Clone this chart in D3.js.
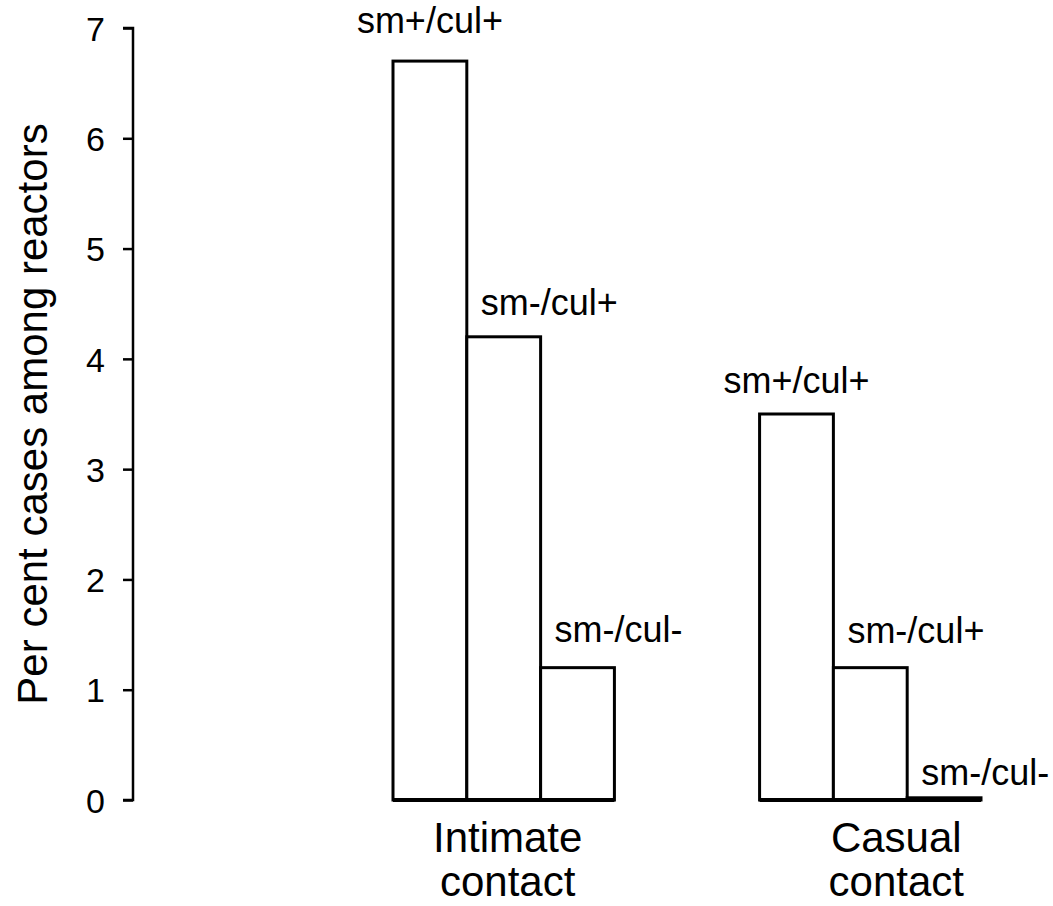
<!DOCTYPE html>
<html>
<head>
<meta charset="utf-8">
<script src="https://cdn.jsdelivr.net/npm/d3@7/dist/d3.min.js"></script>
<style>
  html, body { margin: 0; padding: 0; background: #fff; }
  svg { display: block; font-family: "Liberation Sans", Arial, Helvetica, sans-serif; }
</style>
</head>
<body>
<svg id="chart" width="1053" height="906"></svg>
<script>
// ---- data ----
const categories = ["Intimate contact", "Casual contact"];
const categoryLines = [["Intimate", "contact"], ["Casual", "contact"]];
const seriesNames = ["sm+/cul+", "sm-/cul+", "sm-/cul-"];
const intimateValues = [6.7, 4.2, 1.2];
const casualValues = [3.5, 1.2, 0.02];
const yTicks = [0, 1, 2, 3, 4, 5, 6, 7];
const yTitle = "Per cent cases among reactors";

const groups = [intimateValues, casualValues];

// ---- layout ----
const svg = d3.select("#chart");
const axisX = 133;
const y = d3.scaleLinear().domain([0, 7]).range([800, 28]);

const x0 = d3.scaleBand().domain(categories).range([393, 981]).paddingInner(0.396).paddingOuter(0);
const x1 = d3.scaleBand().domain(seriesNames).range([0, x0.bandwidth()]).padding(0);

// label offsets (styling)
const labelDy = [[-28, -22, -26], [-21, -25, -13]];
const catDx = [4, 26];

// y axis
const yAxis = d3.axisLeft(y).tickValues(yTicks).tickSize(10).tickPadding(18).tickFormat(d3.format("d"));
const gy = svg.append("g").attr("transform", `translate(${axisX},0)`).call(yAxis);
gy.select(".domain").attr("stroke", "#000").attr("stroke-width", 2.5).attr("d", `M-10,${y(7)}H0V${y(0)}H-10`);
gy.selectAll(".tick line").attr("stroke", "#000").attr("stroke-width", 2.5);
gy.selectAll(".tick text").attr("fill", "#000").style("font-size", "34px")
  .style("font-family", '"Liberation Sans", Arial, sans-serif').attr("dy", "0.36em");

// y title
svg.append("text")
  .attr("transform", `translate(47,${(y(7) + y(0)) / 2 + 0}) rotate(-90)`)
  .attr("text-anchor", "middle")
  .style("font-size", "42px")
  .attr("fill", "#000")
  .text(yTitle);

// bars
categories.forEach((cat, gi) => {
  const g = svg.append("g").attr("transform", `translate(${x0(cat)},0)`);
  const vals = groups[gi];
  g.selectAll("rect").data(vals).join("rect")
    .attr("x", (d, i) => x1(seriesNames[i]))
    .attr("y", d => y(d))
    .attr("width", x1.bandwidth())
    .attr("height", d => y(0) - y(d))
    .attr("fill", "#fff")
    .attr("stroke", "#000")
    .attr("stroke-width", 3);
  // baseline
  g.append("line")
    .attr("x1", 0).attr("x2", x0.bandwidth())
    .attr("y1", y(0)).attr("y2", y(0))
    .attr("stroke", "#000").attr("stroke-width", 4);
  // labels
  g.selectAll("text.lbl").data(vals).join("text")
    .attr("class", "lbl")
    .attr("x", (d, i) => i === 0 ? x1(seriesNames[i]) + x1.bandwidth() / 2 : x1(seriesNames[i]) + 14)
    .attr("y", (d, i) => y(d) + labelDy[gi][i])
    .attr("text-anchor", (d, i) => i === 0 ? "middle" : "start")
    .style("font-size", "36px")
    .attr("fill", "#000")
    .text((d, i) => seriesNames[i]);
  // category label
  const t = svg.append("text")
    .attr("text-anchor", "middle")
    .style("font-size", "42px")
    .attr("fill", "#000");
  categoryLines[gi].forEach((line, li) => {
    t.append("tspan")
      .attr("x", x0(cat) + x0.bandwidth() / 2 + catDx[gi])
      .attr("y", 852 + li * 44)
      .text(line);
  });
});
</script>
</body>
</html>
